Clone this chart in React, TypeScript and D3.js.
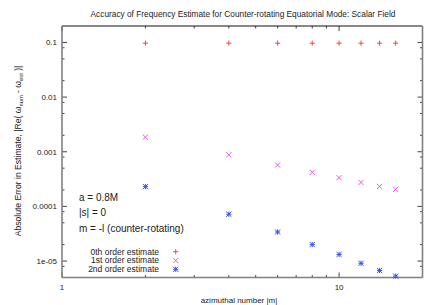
import * as d3 from "d3";

const mValues = [2, 4, 6, 8, 10, 12, 14, 16];
const order0 = [0.097, 0.097, 0.097, 0.097, 0.097, 0.097, 0.097, 0.097];
const order1 = [0.00185, 0.00088, 0.00057, 0.00042, 0.000335, 0.000275, 0.000232, 0.000205];
const order2 = [0.00023, 0.000072, 0.000034, 0.00002, 0.0000132, 0.0000091, 0.0000067, 0.0000053];

const yTickValues = [0.1, 0.01, 0.001, 0.0001, 0.00001];
const yTickLabels = ["0.1", "0.01", "0.001", "0.0001", "1e-05"];
const xTickValues = [1, 10];
const xTickLabels = ["1", "10"];

const seriesNames = ["0th order estimate", "1st order estimate", "2nd order estimate"];
const seriesColors = ["#f04a3a", "#ee55ee", "#3355f5"];
const seriesShapes = ["plus", "cross", "star"];

const W = 436;
const H = 305;
const margin = { left: 62, right: 13.5, top: 26, bottom: 27.5 };
const FONT = "'Liberation Sans', Arial, sans-serif";

function marker(shape: string, x: number, y: number, s: number) {
  const plus = `M${x - s},${y}h${2 * s}M${x},${y - s}v${2 * s}`;
  const cross = `M${x - s},${y - s}l${2 * s},${2 * s}M${x - s},${y + s}l${2 * s},${-2 * s}`;
  if (shape === "plus") return plus;
  if (shape === "cross") return cross;
  return plus + cross;
}

export default function App() {
  const x = d3.scaleLog().domain([1, 20]).range([margin.left, W - margin.right]);
  const y = d3.scaleLog().domain([5e-6, 0.2]).range([H - margin.bottom, margin.top]);
  const [x0, x1] = x.range();
  const [y0, y1] = [y.range()[1], y.range()[0]];

  const xMinor: number[] = [];
  for (let k = 2; k <= 9; k++) xMinor.push(k);
  xMinor.push(20);
  const yMinor: number[] = [];
  for (let e = -6; e <= -1; e++) {
    [2, 5, 8].forEach((k) => {
      const v = k * Math.pow(10, e);
      if (v > 5e-6 && v < 0.2) yMinor.push(v);
    });
  }

  const series = [order0, order1, order2];
  const tickCol = "#444";

  return (
    <svg
      width={W}
      height={H}
      style={{ position: "absolute", left: 0, top: 0, background: "#fff" }}
      fontFamily={FONT}
    >
      <text x={243} y={16.5} fontSize={8.3} textAnchor="middle" fill="#222">
        Accuracy of Frequency Estimate for Counter-rotating Equatorial Mode: Scalar Field
      </text>

      {/* ticks */}
      <g stroke={tickCol} strokeWidth={1}>
        {yTickValues.map((v) => (
          <g key={"ym" + v}>
            <line x1={x0} x2={x0 + 5} y1={y(v)} y2={y(v)} />
            <line x1={x1} x2={x1 - 5} y1={y(v)} y2={y(v)} />
          </g>
        ))}
        {yMinor.map((v) => (
          <g key={"yn" + v}>
            <line x1={x0} x2={x0 + 2.5} y1={y(v)} y2={y(v)} />
            <line x1={x1} x2={x1 - 2.5} y1={y(v)} y2={y(v)} />
          </g>
        ))}
        {xTickValues.map((v) => (
          <g key={"xm" + v}>
            <line x1={x(v)} x2={x(v)} y1={y1} y2={y1 - 5} />
            <line x1={x(v)} x2={x(v)} y1={y0} y2={y0 + 5} />
          </g>
        ))}
        {xMinor.map((v) => (
          <g key={"xn" + v}>
            <line x1={x(v)} x2={x(v)} y1={y1} y2={y1 - 2.5} />
            <line x1={x(v)} x2={x(v)} y1={y0} y2={y0 + 2.5} />
          </g>
        ))}
      </g>

      {/* frame */}
      <line x1={x0} x2={x1} y1={y0} y2={y0} stroke="#111" strokeWidth={1} />
      <line x1={x0} x2={x1} y1={y1} y2={y1} stroke="#808080" strokeWidth={1.6} />
      <line x1={x0} x2={x0} y1={y0} y2={y1} stroke="#808080" strokeWidth={1.6} />
      <line x1={x1} x2={x1} y1={y0} y2={y1} stroke="#808080" strokeWidth={1.6} />

      <g fontSize={8} fill="#222">
        {yTickValues.map((v, i) => (
          <text key={"yl" + v} x={x0 - 5} y={y(v) + 3} textAnchor="end">
            {yTickLabels[i]}
          </text>
        ))}
        {xTickValues.map((v, i) => (
          <text key={"xl" + v} x={x(v)} y={y1 + 12} textAnchor="middle">
            {xTickLabels[i]}
          </text>
        ))}
        <text x={239} y={303} textAnchor="middle">
          azimuthal number |m|
        </text>
        <text transform={`translate(21,151) rotate(-90)`} textAnchor="middle" fontSize={8.6}>
          Absolute Error in Estimate, |Re( ω
          <tspan fontSize={5.8} dy={2}>num</tspan>
          <tspan dy={-2}> - ω</tspan>
          <tspan fontSize={5.8} dy={2}>est</tspan>
          <tspan dy={-2}> )|</tspan>
        </text>
      </g>

      <g fontSize={10} fill="#222">
        <text x={79} y={200.5}>a = 0.8M</text>
        <text x={79} y={216}>|s| = 0</text>
        <text x={79} y={232}>m = -l (counter-rotating)</text>
      </g>

      {/* data */}
      {series.map((vals, si) => (
        <g key={"s" + si} stroke={seriesColors[si]} strokeWidth={1} fill="none">
          {vals.map((v, i) => (
            <path key={i} d={marker(seriesShapes[si], x(mValues[i]), y(v), 2.6)} />
          ))}
        </g>
      ))}

      {/* legend */}
      {seriesNames.map((name, si) => {
        const ly = 251.7 + si * 8.8;
        return (
          <g key={"lg" + si}>
            <text x={159} y={ly + 2.9} fontSize={8.5} textAnchor="end" fill="#222">
              {name}
            </text>
            <path d={marker(seriesShapes[si], 175.7, ly, 2.6)} stroke={seriesColors[si]} strokeWidth={1} fill="none" />
          </g>
        );
      })}
    </svg>
  );
}
